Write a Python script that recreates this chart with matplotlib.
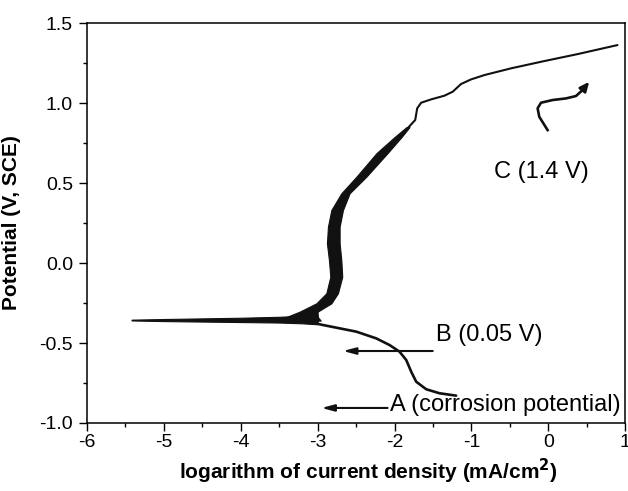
import numpy as np
from matplotlib import pyplot as plt
from matplotlib.ticker import MultipleLocator

plt.rcParams['font.family'] = ['Liberation Sans', 'DejaVu Sans']
plt.rcParams['axes.unicode_minus'] = False

# Horizontal (near corrosion potential) thick part of the scan
h_x = [-5.42, -5.0, -4.5, -4.0, -3.5, -3.2, -3.0]
h_top = [-0.354, -0.350, -0.346, -0.342, -0.336, -0.330, -0.325]
h_bot = [-0.359, -0.363, -0.366, -0.369, -0.372, -0.377, -0.383]

# Noisy anodic band (left / right edges vs potential)
band_y = [-0.36, -0.336, -0.304, -0.252, -0.189, -0.086, 0.019, 0.123, 0.227, 0.331,
          0.436, 0.539, 0.6875, 0.7875, 0.85]
band_left = [-3.6, -3.40, -3.234, -3.017, -2.887, -2.835, -2.853, -2.879, -2.866, -2.822,
             -2.692, -2.497, -2.234, -2.0, -1.844]
band_right = [-2.96, -3.0, -3.0, -2.822, -2.736, -2.68, -2.692, -2.714, -2.714, -2.671,
              -2.584, -2.368, -2.09, -1.909, -1.805]

# Thin anodic tail up to 1.4 V
an_x = [-1.825, -1.731, -1.705, -1.654, -1.524, -1.351, -1.243, -1.135, -1.004,
        -0.831, -0.485, -0.052, 0.381, 0.90]
an_y = [0.845, 0.894, 0.967, 1.002, 1.023, 1.046, 1.071, 1.119, 1.148,
        1.175, 1.217, 1.2625, 1.306, 1.3625]

# Cathodic branch
cat_x = [-3.0, -2.93, -2.497, -2.238, -2.065, -1.935, -1.848, -1.783, -1.718,
         -1.588, -1.416, -1.199]
cat_y = [-0.380, -0.3875, -0.429, -0.471, -0.5125, -0.554, -0.606, -0.679, -0.742,
         -0.789, -0.814, -0.829]

# Curly arrow near label C
c_x = [-0.009, -0.117, -0.139, -0.095, 0.056, 0.23, 0.36, 0.445]
c_y = [0.831, 0.914, 0.967, 1.002, 1.019, 1.029, 1.044, 1.081]
c_tip = (0.532, 1.133)

fig = plt.figure(figsize=(6.28, 4.91), dpi=100)
ax = fig.add_axes([0.1385, 0.1385, 0.857, 0.8145])

ink = '#111111'
ax.fill_between(h_x, h_bot, h_top, color=ink, lw=0.8)
ax.fill_betweenx(band_y, band_left, band_right, color=ink, lw=0.8)
ax.plot(an_x, an_y, color=ink, lw=1.5, solid_capstyle='round', solid_joinstyle='round')
ax.plot(cat_x, cat_y, color=ink, lw=1.9, solid_capstyle='round', solid_joinstyle='round')

# Annotations
ax.plot(c_x, c_y, color=ink, lw=1.9, solid_joinstyle='round')
ax.annotate('', xy=c_tip, xytext=(c_x[-1], c_y[-1]),
            arrowprops=dict(arrowstyle='-|>,head_length=0.55,head_width=0.25',
                            color=ink, lw=1.9, shrinkA=0, shrinkB=0))
ax.text(-0.09, 0.57, 'C (1.4 V)', fontsize=17, ha='center', va='center')

ax.annotate('', xy=(-2.67, -0.55), xytext=(-1.503, -0.55),
            arrowprops=dict(arrowstyle='-|>,head_length=0.75,head_width=0.2',
                            color=ink, lw=1.5, shrinkA=0, shrinkB=0))
ax.text(-0.766, -0.45, 'B (0.05 V)', fontsize=17, ha='center', va='center')

ax.annotate('', xy=(-2.95, -0.906), xytext=(-2.09, -0.906),
            arrowprops=dict(arrowstyle='-|>,head_length=0.75,head_width=0.2',
                            color=ink, lw=1.5, shrinkA=0, shrinkB=0))
ax.text(-0.56, -0.89, 'A (corrosion potential)', fontsize=17, ha='center', va='center')

ax.set_xlim(-6, 1)
ax.set_ylim(-1.0, 1.5)
ax.xaxis.set_major_locator(MultipleLocator(1))
ax.xaxis.set_minor_locator(MultipleLocator(0.5))
ax.yaxis.set_major_locator(MultipleLocator(0.5))
ax.yaxis.set_minor_locator(MultipleLocator(0.25))
ax.yaxis.set_major_formatter(plt.FormatStrFormatter('%.1f'))
ax.tick_params(which='both', direction='out', top=False, right=False, width=1.0)
ax.tick_params(which='major', length=6, labelsize=14, pad=2)
ax.tick_params(which='minor', length=3)
ax.tick_params(axis='y', pad=4)
for s in ax.spines.values():
    s.set_linewidth(1.1)

ax.set_xlabel('logarithm of current density (mA/cm$^\\mathbf{2}$)', fontsize=15,
              fontweight='bold', labelpad=4)
ax.xaxis.set_label_coords(0.522, -0.085)
ax.set_ylabel('Potential (V, SCE)', fontsize=15, fontweight='bold')
ax.yaxis.set_label_coords(-0.122, 0.5)

fig.savefig('out.png', dpi=100)
